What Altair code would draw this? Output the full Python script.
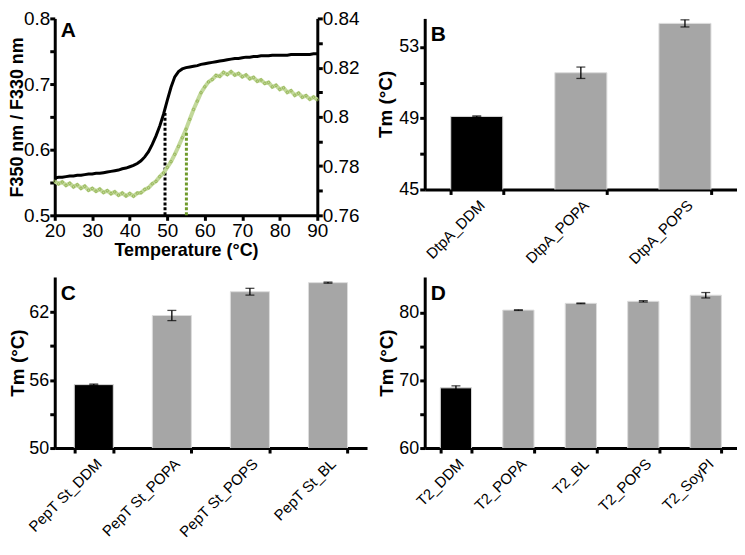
import altair as alt
import pandas as pd

# ---------------- Panel A data ----------------
temps = list(range(20, 91))
black_ratio = [0.557, 0.558, 0.558, 0.559, 0.560, 0.560, 0.561, 0.561, 0.562, 0.563,
               0.563, 0.564, 0.564, 0.565, 0.566, 0.567, 0.568, 0.569, 0.571, 0.572,
               0.574, 0.576, 0.579, 0.583, 0.589, 0.597, 0.608, 0.621, 0.636, 0.654,
               0.675, 0.695, 0.711, 0.719, 0.723, 0.725, 0.726, 0.727, 0.728, 0.730,
               0.731, 0.732, 0.733, 0.734, 0.735, 0.736, 0.737, 0.738, 0.739, 0.739,
               0.740, 0.741, 0.741, 0.742, 0.742, 0.743, 0.743, 0.743, 0.744, 0.744,
               0.744, 0.744, 0.744, 0.745, 0.745, 0.745, 0.745, 0.745, 0.745, 0.746,
               0.746]
green_ratio = [0.7738, 0.7728, 0.7735, 0.7722, 0.7730, 0.7716, 0.7724, 0.7710, 0.7718, 0.7702,
               0.7709, 0.7698, 0.7706, 0.7693, 0.7700, 0.7688, 0.7695, 0.7682, 0.7690, 0.7679,
               0.7688, 0.7678, 0.7690, 0.7692, 0.7705, 0.7712, 0.7728, 0.7738, 0.7757, 0.7772,
               0.7795, 0.7818, 0.7848, 0.7880, 0.7915, 0.7950, 0.7990, 0.8030, 0.8064, 0.8098,
               0.8122, 0.8142, 0.8152, 0.8168, 0.8165, 0.8180, 0.8172, 0.8183, 0.8170, 0.8176,
               0.8163, 0.8170, 0.8155, 0.8160, 0.8145, 0.8150, 0.8136, 0.8140, 0.8122, 0.8128,
               0.8112, 0.8118, 0.8100, 0.8106, 0.8088, 0.8096, 0.8080, 0.8086, 0.8072, 0.8080,
               0.8070]
black_tm = [49.4]
black_tm_top = [0.659]
green_tm = [55.1]
green_tm_top = [0.7936]

# ---------------- Bar panels data ----------------
b_cats = ["DtpA_DDM", "DtpA_POPA", "DtpA_POPS"]
b_vals = [49.1, 51.55, 54.32]
b_err = [0.03, 0.32, 0.2]

c_cats = ["PepT St_DDM", "PepT St_POPA", "PepT St_POPS", "PepT St_BL"]
c_vals = [55.6, 61.7, 63.8, 64.6]
c_err = [0.05, 0.45, 0.3, 0.05]

d_cats = ["T2_DDM", "T2_POPA", "T2_BL", "T2_POPS", "T2_SoyPI"]
d_vals = [68.9, 80.4, 81.4, 81.7, 82.6]
d_err = [0.3, 0.05, 0.05, 0.1, 0.4]

FONT = "Arial"
LINE = dict(domain=True, ticks=True, domainColor="black", domainWidth=3, tickColor="black",
            tickWidth=3, tickSize=5)
AX = dict(labelFont=FONT, labelColor="black", titleFont=FONT, titleFontWeight="bold",
          titleColor="black", grid=False, labelFlush=False, labelOverlap=False, **LINE)

A_H = 198
BAR_H = 172


def letter(ch, x, y):
    return alt.Chart(pd.DataFrame({"t": [ch]})).mark_text(
        font=FONT, fontSize=21, fontWeight="bold", align="left", baseline="top", color="black"
    ).encode(text="t:N", x=alt.value(x), y=alt.value(y))


# ---------------- Panel A ----------------
dfA = pd.DataFrame({"T": temps, "black": black_ratio, "green": green_ratio})
xA = alt.X("T:Q", scale=alt.Scale(domain=[20, 90], nice=False),
           axis=alt.Axis(values=list(range(20, 91, 10)), title="Temperature (°C)",
                         titlePadding=1, labelPadding=1, labelFontSize=19, titleFontSize=18, **AX))
left_axis = alt.Axis(values=[0.5, 0.55, 0.6, 0.65, 0.7, 0.75, 0.8],
                     labelExpr="abs(datum.value*10 - round(datum.value*10)) < 0.01 ? format(datum.value, '.1f') : ''",
                     title="F350 nm / F330 nm", titleX=-37, titleY=A_H / 2, titleAngle=270,
                     titleAlign="center", titleBaseline="middle", labelPadding=0,
                     labelFontSize=19, titleFontSize=18, **AX)
right_axis = alt.Axis(values=[0.76, 0.77, 0.78, 0.79, 0.8, 0.81, 0.82, 0.83, 0.84], orient="right",
                      labelExpr="round(datum.value*100) % 2 == 0 ? format(datum.value, '~g') : ''",
                      title=None, labelPadding=0, labelFontSize=19, **AX)
left_scale = alt.Scale(domain=[0.5, 0.8], nice=False, zero=False)
right_scale = alt.Scale(domain=[0.76, 0.84], nice=False, zero=False)

black_line = alt.Chart(dfA).mark_line(color="black", strokeWidth=3).encode(
    x=xA, y=alt.Y("black:Q", scale=left_scale, axis=left_axis))
black_rule = alt.Chart(pd.DataFrame({"T": black_tm, "lo": [0.5], "hi": black_tm_top})).mark_rule(
    color="black", strokeWidth=3, strokeDash=[3, 2]).encode(
    x=xA, y=alt.Y("lo:Q", scale=left_scale, axis=left_axis), y2="hi:Q")
green_line = alt.Chart(dfA).mark_line(color="#c2d89a", strokeWidth=4).encode(
    x=xA, y=alt.Y("green:Q", scale=right_scale, axis=right_axis))
green_pts = alt.Chart(dfA).mark_point(color="#8fb04d", filled=False, size=6, strokeWidth=1,
                                      shape="circle", opacity=0.85).encode(
    x=xA, y=alt.Y("green:Q", scale=right_scale, axis=right_axis))
green_rule = alt.Chart(pd.DataFrame({"T": green_tm, "lo": [0.76], "hi": green_tm_top})).mark_rule(
    color="#6f9a2a", strokeWidth=3, strokeDash=[3, 2]).encode(
    x=xA, y=alt.Y("lo:Q", scale=right_scale, axis=right_axis), y2="hi:Q")

panelA = alt.layer(
    alt.layer(black_line, black_rule, letter("A", 6, 2)),
    alt.layer(green_line, green_pts, green_rule),
).resolve_scale(y="independent").properties(width=264, height=A_H)


# ---------------- Bar panels ----------------
def bar_panel(cats, vals, errs, domain, ticks, label_every, lab, w, h, label_size, title_x):
    df = pd.DataFrame({"cat": cats, "v": vals,
                       "lo": [v - e for v, e in zip(vals, errs)],
                       "hi": [v + e for v, e in zip(vals, errs)],
                       "kind": ["det"] + ["lip"] * (len(cats) - 1)})
    x = alt.X("cat:N", sort=cats, scale=alt.Scale(paddingInner=0.5, paddingOuter=0.25),
              axis=alt.Axis(title=None, labelAngle=-45, tickBand="extent", labelPadding=3,
                            labelFontSize=label_size, **AX))
    ysc = alt.Scale(domain=domain, nice=False, zero=False)
    yax = alt.Axis(values=ticks, title="Tm (°C)", titleX=title_x, titleY=h / 2, titleAngle=270,
                   titleAlign="center", titleBaseline="middle", labelPadding=1,
                   labelFontSize=18, titleFontSize=19,
                   labelExpr=f"(datum.value - {ticks[0]}) % {label_every} == 0 ? datum.label : ''", **AX)
    bars = alt.Chart(df).mark_bar(stroke="#dcdcdc", strokeWidth=1, clip=True).encode(
        x=x, y=alt.Y("v:Q", scale=ysc, axis=yax),
        color=alt.Color("kind:N", scale=alt.Scale(domain=["det", "lip"], range=["#000000", "#a6a6a6"]),
                        legend=None))
    err = alt.Chart(df).mark_rule(color="black", strokeWidth=1.3).encode(
        x=x, y=alt.Y("lo:Q", scale=ysc, axis=yax), y2="hi:Q")
    cap_lo = alt.Chart(df).mark_tick(color="black", size=9, thickness=1.3).encode(
        x=x, y=alt.Y("lo:Q", scale=ysc, axis=yax))
    cap_hi = alt.Chart(df).mark_tick(color="black", size=9, thickness=1.3).encode(
        x=x, y=alt.Y("hi:Q", scale=ysc, axis=yax))
    return alt.layer(bars, err, cap_lo, cap_hi, letter(lab, 6, 6)).properties(width=w, height=h)


panelB = bar_panel(b_cats, b_vals, b_err, [45, 54.6], [45, 47, 49, 51, 53], 4, "B", 314, BAR_H, 15, -39)
panelC = bar_panel(c_cats, c_vals, c_err, [50, 65.1], [50, 53, 56, 59, 62], 6, "C", 314, BAR_H, 15, -37)
panelD = bar_panel(d_cats, d_vals, d_err, [60, 85.3], [60, 65, 70, 75, 80], 10, "D", 314, BAR_H, 15, -38)

chart = alt.concat(panelA, panelB, panelC, panelD, columns=2, spacing=10).properties(
    padding=0
).configure_view(stroke=None).configure_axis(**AX).configure_axisX(**LINE).configure_axisY(
    **LINE).configure_axisQuantitative(**LINE).configure_axisBand(**LINE)

chart.save("out.html", embed_options={"renderer": "svg", "actions": False})
